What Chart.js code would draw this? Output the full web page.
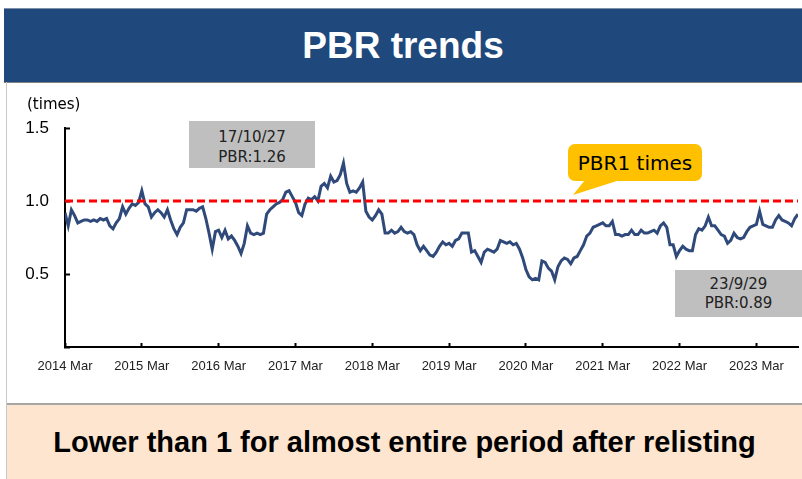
<!DOCTYPE html>
<html>
<head>
<meta charset="utf-8">
<script src="https://cdn.jsdelivr.net/npm/chart.js@4.4.0/dist/chart.umd.min.js"></script>
<style>
  html, body { margin: 0; padding: 0; background: #fff; }
  body { width: 802px; height: 479px; position: relative; overflow: hidden; font-family: "Liberation Sans", Arial, sans-serif; }
  .header { position: absolute; left: 4px; top: 8px; width: 798px; height: 73px; background: #1f497d;
            border-top: 1px solid #7f8fa8; border-bottom: 1px solid #7f7f7f;
            color: #fff; font-weight: bold; font-size: 37px; display: flex; align-items: center; justify-content: center; }
  .frame { position: absolute; left: 6px; top: 82px; width: 1px; height: 397px; background: #c8c8c8; }
  .plot { position: absolute; left: 6px; top: 82px; width: 796px; height: 322px; }
  .footer { position: absolute; left: 7px; top: 403px; width: 795px; height: 74px; background: #fde5cf;
            border-top: 2px solid #a6a6a6; color: #000; font-weight: bold; font-size: 29px;
            display: flex; align-items: center; justify-content: center; }
  .unit { position: absolute; left: 27px; top: 95px; font-family: "DejaVu Sans", sans-serif; font-size: 15px; color: #000; }
  .note { position: absolute; background: #bfbfbf; color: #222; font-family: "DejaVu Sans", sans-serif;
          font-size: 15px; text-align: center; box-sizing: border-box; }
  .bubble { position: absolute; left: 568px; top: 144px; width: 134px; height: 37px; background: #ffc000; border-radius: 7px;
            font-family: "DejaVu Sans", sans-serif; font-size: 20px; color: #000; display: flex; align-items: center; justify-content: center; }
  .pointer { position: absolute; left: 573px; top: 180px; width: 48px; height: 15px; background: #ffc000;
             clip-path: polygon(12px 0, 47px 0, 0 15px); }
</style>
</head>
<body>
<div class="header">PBR trends</div>
<div class="frame"></div>
<div class="plot"><canvas id="pbrChart" width="796" height="322"></canvas></div>
<div class="unit">(times)</div>
<div class="note" style="left:189px; top:121px; width:126px; height:47px; padding-top:6px; line-height:20px;">17/10/27<br>PBR:1.26</div>
<div class="note" style="left:675px; top:270px; width:127px; height:47px; padding-top:5px; line-height:19px;">23/9/29<br>PBR:0.89</div>
<div class="pointer"></div>
<div class="bubble">PBR1 times</div>
<div class="footer">Lower than 1 for almost entire period after relisting</div>

<script>
// tick labels on the time axis, one per year
const tickLabels = ['2014 Mar', '2015 Mar', '2016 Mar', '2017 Mar', '2018 Mar',
                    '2019 Mar', '2020 Mar', '2021 Mar', '2022 Mar', '2023 Mar'];

const pointsPerYear = 24;
const pbr = [
  0.92, 0.83, 0.94, 0.90, 0.85, 0.86, 0.87, 0.87, 0.86, 0.87,
  0.86, 0.88, 0.87, 0.88, 0.83, 0.81, 0.85, 0.88, 0.96, 0.91,
  0.95, 0.98, 0.97, 0.99, 1.07, 0.98, 0.96, 0.89, 0.92, 0.94,
  0.92, 0.89, 0.94, 0.87, 0.81, 0.77, 0.82, 0.85, 0.94,
  0.94, 0.94, 0.93, 0.95, 0.96, 0.88, 0.78, 0.67, 0.79, 0.80,
  0.75, 0.80, 0.74, 0.76, 0.73, 0.69, 0.64, 0.71, 0.83, 0.78,
  0.77, 0.78, 0.77, 0.78, 0.91, 0.94, 0.96, 0.98, 0.99, 1.01,
  1.06, 1.07, 1.03, 0.99, 0.92, 0.90, 0.98, 1.02, 1.01, 1.03,
  1.00, 1.10, 1.12, 1.09, 1.17, 1.13, 1.14, 1.18, 1.26, 1.12,
  1.06, 1.07, 1.06, 1.09, 1.13, 0.93, 0.89, 0.87, 0.90, 0.94,
  0.91, 0.78, 0.78, 0.80, 0.78, 0.79, 0.82, 0.79, 0.78, 0.79,
  0.77, 0.70, 0.66, 0.69, 0.66, 0.63, 0.62,
  0.65, 0.69, 0.72, 0.70, 0.71, 0.69, 0.73, 0.74, 0.78, 0.78,
  0.78, 0.65, 0.66, 0.62, 0.58, 0.65, 0.67, 0.66, 0.65, 0.67,
  0.73, 0.72, 0.71, 0.72, 0.70, 0.71, 0.67, 0.61, 0.53, 0.48,
  0.46, 0.47, 0.46, 0.59, 0.58, 0.54, 0.52, 0.46, 0.55,
  0.59, 0.61, 0.60, 0.57, 0.61, 0.62, 0.66, 0.70, 0.76, 0.78,
  0.82, 0.83, 0.84, 0.85, 0.83, 0.83, 0.86, 0.77, 0.77, 0.76,
  0.77, 0.77, 0.80, 0.77, 0.77, 0.80, 0.78, 0.78, 0.79, 0.80,
  0.78, 0.83, 0.85, 0.82, 0.70, 0.70, 0.62, 0.66, 0.69,
  0.67, 0.66, 0.66, 0.77, 0.81, 0.80, 0.83, 0.89, 0.83, 0.83,
  0.80, 0.77, 0.76, 0.71, 0.73, 0.78, 0.75, 0.74, 0.75, 0.79,
  0.82, 0.83, 0.84, 0.93, 0.84, 0.83, 0.82, 0.82, 0.87, 0.90,
  0.87, 0.86, 0.85, 0.83, 0.88, 0.91
];

const parLevel = 1.0; // PBR 1 times

const lastX = (pbr.length - 1) / pointsPerYear;
const pbrPoints = pbr.map((v, i) => ({ x: i / pointsPerYear, y: v }));

const axisFont = { family: 'Liberation Sans', size: 13 };

new Chart(document.getElementById('pbrChart').getContext('2d'), {
  type: 'line',
  data: {
    datasets: [{
      label: 'PBR1 times',
      data: [{ x: 0, y: parLevel }, { x: lastX, y: parLevel }],
      borderColor: '#ff0000',
      borderWidth: 3,
      borderDash: [8, 4],
      pointRadius: 0,
      order: 0
    },
    {
      label: 'PBR',
      data: pbrPoints,
      borderColor: '#2f4a7a',
      borderWidth: 3,
      pointRadius: 0,
      tension: 0,
      order: 1
    }]
  },
  options: {
    responsive: false,
    animation: false,
    devicePixelRatio: 1,
    layout: { padding: { top: 46, right: 4, left: 0, bottom: 0 } },
    plugins: {
      legend: { display: false },
      tooltip: { enabled: false }
    },
    scales: {
      x: {
        type: 'linear',
        min: 0,
        max: lastX,
        border: { color: '#000', width: 2 },
        grid: { drawOnChartArea: false, drawTicks: true, tickLength: -4, tickColor: '#000', tickWidth: 2 },
        ticks: {
          stepSize: 1,
          includeBounds: false,
          autoSkip: false,
          maxRotation: 0,
          padding: 16,
          color: '#222',
          font: axisFont,
          callback: v => tickLabels[Math.round(v)]
        },
        afterFit: s => { s.height = 57; }
      },
      y: {
        min: 0,
        max: 1.5,
        border: { color: '#000', width: 2 },
        grid: { drawOnChartArea: false, drawTicks: true, tickLength: -5, tickColor: '#000', tickWidth: 2 },
        ticks: {
          stepSize: 0.5,
          padding: 21,
          color: '#000',
          font: { family: 'Liberation Sans', size: 17 },
          callback: v => v === 0 ? '' : v.toFixed(1)
        },
        afterFit: s => { s.width = 59; }
      }
    }
  }
});
</script>
</body>
</html>
